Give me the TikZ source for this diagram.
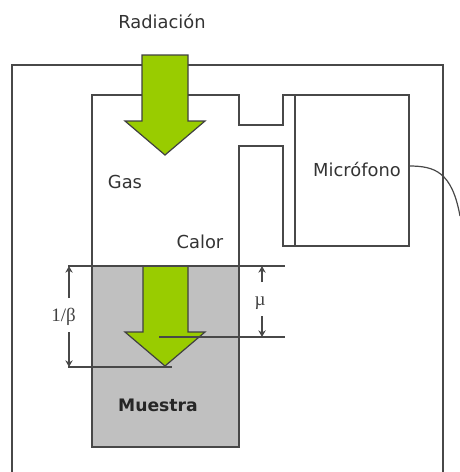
\documentclass[tikz,border=0pt]{standalone}
\usepackage{fontspec}
\usetikzlibrary{arrows.meta}
\setmainfont{DejaVu Sans}
\newfontfamily\serifface{Liberation Serif}
\definecolor{arrowgreen}{HTML}{99CC00}
\definecolor{sample}{HTML}{C0C0C0}
\definecolor{wall}{HTML}{484848}
\begin{document}
\begin{tikzpicture}[x=0.75pt,y=-0.75pt,
  wall line/.style={draw=wall,line width=1.1pt},
  thin line/.style={draw=wall,line width=0.9pt},
  box/.style={draw=wall,line width=1.1pt,inner sep=0pt,outer sep=0pt,anchor=center},
  big arrow/.style={draw=black!75,fill=arrowgreen,line width=0.9pt,line join=miter},
  dim arrow/.style={draw=wall,line width=0.9pt,-{Stealth[length=5pt,width=5.5pt]}},
  lab/.style={font=\fontsize{13.4}{15}\selectfont,text=black!80,inner sep=0pt},
  dimlab/.style={font=\serifface\fontsize{14.2}{16}\selectfont,text=black!75,inner sep=1pt}]
\useasboundingbox (0,0) rectangle (460,472);
% outer chamber (runs off the bottom)
\draw[wall line] (12,472) -- (12,65) -- (443,65) -- (443,472);
% sample
\node[box,fill=sample,minimum width=110.4pt,minimum height=135.75pt] (muestra box) at (165.4,356.5) {};
% gas cell
\draw[wall line] (239,266) -- (239,146) -- (283,146) -- (283,246) -- (295,246);
\draw[wall line] (92,266) -- (92,95) -- (239,95) -- (239,125) -- (283,125) -- (283,95) -- (295,95);
% microphone
\node[box,minimum width=85.5pt,minimum height=113.2pt] (mic) at (352,170.6) {};
\node[lab] at (357,169) {Micrófono};
\coordinate (cable end) at (460,216);
\draw[thin line] (mic.east |- 0,166) .. controls (435,166) and (452,172) .. (cable end);
% horizontal reference lines
\coordinate (top L) at (68,266);
\coordinate (top R) at (285,266);
\coordinate (mu R) at (285,337);
\coordinate (mu L) at (159,337);
\coordinate (beta L) at (68,367);
\coordinate (beta R) at (172,367);
% arrows
\draw[big arrow] (142,55) -- (188,55) -- (188,121) -- (205,121) -- (165,155) -- (125,121) -- (142,121) -- cycle;
\draw[big arrow] (143,266) -- (188,266) -- (188,332) -- (205,332) -- (165,366) -- (125,332) -- (143,332) -- cycle;
\draw[thin line] (top L) -- (top R);
\draw[thin line] (mu L) -- (mu R);
\draw[thin line] (beta L) -- (beta R);
% dimensions
\node[dimlab] (beta) at (63.5,317) {1/β};
\node[dimlab] (mu) at (260,303) {µ};
\draw[dim arrow] (beta) ++(5.5,-19) -- (69,266);
\draw[dim arrow] (beta) ++(5.5,15) -- (69,367);
\draw[dim arrow] (mu) ++(2,-21) -- (262,266);
\draw[dim arrow] (mu) ++(2,13) -- (262,337);
% labels
\node[lab] at (162,21) {Radiación};
\node[lab] at (125,182) {Gas};
\node[lab] at (200,242) {Calor};
\node[lab,font=\fontsize{12.9}{15}\selectfont\bfseries,text=black!85] at (158,405) {Muestra};
\end{tikzpicture}
\end{document}
